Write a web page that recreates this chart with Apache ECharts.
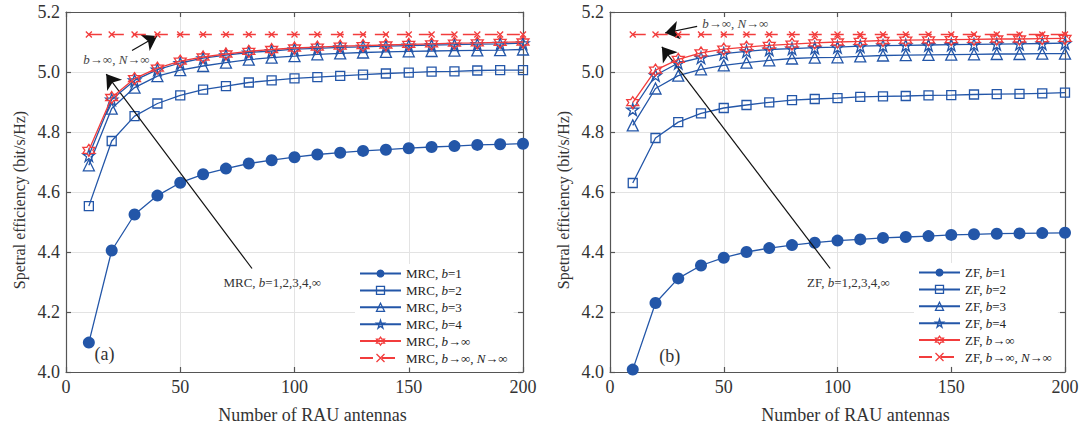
<!DOCTYPE html>
<html>
<head>
<meta charset="utf-8">
<script src="https://cdn.jsdelivr.net/npm/echarts@6/dist/echarts.min.js"></script>
<style>
html,body{margin:0;padding:0;background:#fff;}
#chart{width:1085px;height:433px;}
</style>
</head>
<body>
<div id="chart"></div>
<script>
// ---------- data ----------
const antennas = [10,20,30,40,50,60,70,80,90,100,110,120,130,140,150,160,170,180,190,200];
const xTicks = [0,50,100,150,200];
const yTicks = [4.0,4.2,4.4,4.6,4.8,5.0,5.2];

const mrcB1   = [4.098,4.405,4.525,4.588,4.631,4.659,4.678,4.695,4.706,4.716,4.725,4.731,4.737,4.741,4.746,4.750,4.753,4.757,4.759,4.761];
const mrcB2   = [4.553,4.770,4.853,4.895,4.922,4.941,4.953,4.965,4.972,4.979,4.983,4.987,4.991,4.995,4.998,5.001,5.002,5.005,5.006,5.006];
const mrcB3   = [4.689,4.878,4.948,4.986,5.006,5.020,5.031,5.041,5.048,5.053,5.059,5.062,5.065,5.067,5.069,5.070,5.071,5.072,5.073,5.075];
const mrcB4   = [4.722,4.908,4.972,5.008,5.030,5.046,5.056,5.065,5.070,5.076,5.079,5.082,5.084,5.086,5.088,5.090,5.091,5.093,5.094,5.096];
const mrcBInf = [4.739,4.915,4.978,5.013,5.036,5.050,5.060,5.069,5.075,5.080,5.083,5.086,5.088,5.090,5.092,5.094,5.096,5.097,5.099,5.100];
const mrcBInfNInf = [5.125,5.125,5.125,5.125,5.125,5.125,5.125,5.125,5.125,5.125,5.125,5.125,5.125,5.125,5.125,5.125,5.125,5.125,5.125,5.125];

const zfB1   = [4.008,4.230,4.312,4.355,4.381,4.400,4.413,4.423,4.431,4.438,4.442,4.447,4.450,4.453,4.457,4.459,4.461,4.462,4.463,4.464];
const zfB2   = [4.630,4.780,4.833,4.862,4.880,4.890,4.899,4.906,4.910,4.913,4.917,4.919,4.920,4.922,4.923,4.925,4.926,4.927,4.929,4.931];
const zfB3   = [4.822,4.945,4.988,5.009,5.022,5.031,5.039,5.045,5.048,5.049,5.052,5.055,5.056,5.057,5.058,5.059,5.060,5.060,5.061,5.061];
const zfB4   = [4.875,4.989,5.030,5.048,5.061,5.069,5.075,5.078,5.081,5.083,5.086,5.088,5.089,5.090,5.091,5.092,5.093,5.094,5.095,5.096];
const zfBInf = [4.898,5.006,5.042,5.064,5.076,5.083,5.089,5.093,5.097,5.100,5.102,5.105,5.106,5.107,5.108,5.109,5.110,5.110,5.111,5.112];
const zfBInfNInf = [5.125,5.125,5.125,5.125,5.125,5.125,5.125,5.125,5.125,5.125,5.125,5.125,5.125,5.125,5.125,5.125,5.125,5.125,5.125,5.125];

const mrcNames = ['MRC, b=1','MRC, b=2','MRC, b=3','MRC, b=4','MRC, b→∞','MRC, b→∞, N→∞'];
const zfNames  = ['ZF, b=1','ZF, b=2','ZF, b=3','ZF, b=4','ZF, b→∞','ZF, b→∞, N→∞'];

// annotations (data coordinates)
const annotA = {
  arrow1: [[28.9,5.072],[39.9,5.120]],
  arrow2: [[81.4,4.345],[17.6,4.993]],
  label1: {text:'{i|b}→∞, {i|N}→∞', at:[7.6,5.041]},
  label2: {text:'MRC, {i|b}=1,2,3,4,∞', at:[68.9,4.300]},
  panel: {text:'(a)', at:[16.8,4.061]}
};
const annotB = {
  arrow1: [[38.3,5.152],[24.2,5.130]],
  arrow2: [[96.8,4.345],[22.8,5.084]],
  label1: {text:'{i|b}→∞, {i|N}→∞', at:[40.5,5.161]},
  label2: {text:'ZF, {i|b}=1,2,3,4,∞', at:[86.6,4.300]},
  panel: {text:'(b)', at:[26.3,4.055]}
};

// ---------- styles ----------
const FONT = 'Liberation Serif';
const BLUE = '#2356a8';
const RED = '#f23c3c';
const AXIS = '#555555';
const CLEAR = 'rgba(255,255,255,0)';
const pentagram = 'path://M50,2 L61.2,36.2 L97.6,36.2 L68.2,57.4 L79.4,91.6 L50,70.4 L20.6,91.6 L31.8,57.4 L2.4,36.2 L38.8,36.2 Z';
const hexagram = 'path://M50,0 L64.4,25 L93.3,25 L78.9,50 L93.3,75 L64.4,75 L50,100 L35.6,75 L6.7,75 L21.1,50 L6.7,25 L35.6,25 Z';
const cross = 'path://M0,0 L10,10 M10,0 L0,10';

const styleDefs = [
  {color:BLUE, symbol:'circle', size:12, filled:true},
  {color:BLUE, symbol:'rect', size:9, filled:false},
  {color:BLUE, symbol:'triangle', size:11, filled:false},
  {color:BLUE, symbol:pentagram, size:12, filled:false},
  {color:RED, symbol:hexagram, size:12, filled:false},
  {color:RED, symbol:cross, size:6, filled:false, dashed:true}
];

function pairs(arr){ return antennas.map((x,i)=>[x, arr[i]]); }
function itemStyleOf(s){
  return {color: s.filled ? s.color : CLEAR, borderColor: s.color, borderWidth: s.filled ? 0 : 1.3};
}
function lineStyleOf(s){
  return {color:s.color, width:1.3, type: s.dashed ? [13,9] : 'solid'};
}

function makeSeries(names, arrays, gi, annot){
  return arrays.map((arr, k) => {
    const s = styleDefs[k];
    const ser = {
      name: names[k], type:'line', xAxisIndex: gi*2, yAxisIndex: gi*2,
      data: pairs(arr), symbol: s.symbol, symbolSize: s.size,
      showAllSymbol: true, animation:false, z: 2 + k,
      lineStyle: lineStyleOf(s),
      itemStyle: itemStyleOf(s),
      emphasis: {disabled:true}
    };
    if (k === 5) {
      ser.markLine = {
        silent:true, animation:false, symbol:['none','arrow'], symbolSize:14,
        label:{show:false},
        lineStyle:{color:'#111', width:1.2, type:'solid'},
        data:[
          [{coord:annot.arrow1[0]},{coord:annot.arrow1[1]}],
          [{coord:annot.arrow2[0]},{coord:annot.arrow2[1]}]
        ]
      };
    }
    return ser;
  });
}

function legendData(names){
  return names.map((n, k) => {
    const s = styleDefs[k];
    return {name:n, itemStyle:itemStyleOf(s)};
  });
}

function axisPair(gi){
  const base = {
    gridIndex: gi, type:'value',
    axisLine:{show:true, onZero:false, lineStyle:{color:AXIS, width:1.2}},
    axisTick:{show:true, inside:true, length:5, lineStyle:{color:AXIS, width:1.2}},
    splitLine:{show:false}
  };
  const x = Object.assign({}, base, {
    position:'bottom', min:0, max:200, interval:50,
    axisLabel:{fontFamily:FONT, fontSize:18, color:'#333', margin:6,
      formatter: v => xTicks.includes(v) ? String(v) : ''},
    splitLine:{show:true, lineStyle:{color:'#e3e3e3', width:1}},
    name:'Number of RAU antennas', nameLocation:'middle', nameGap:34,
    nameTextStyle:{fontFamily:FONT, fontSize:18, color:'#333', padding:[0,0,0,36]}
  });
  const xTop = Object.assign({}, base, {position:'top', min:0, max:200, interval:50, axisLabel:{show:false}});
  const y = Object.assign({}, base, {
    position:'left', min:4.0, max:5.2, interval:0.2,
    axisLabel:{fontFamily:FONT, fontSize:18, color:'#333', margin:6,
      formatter: v => { const t = yTicks.find(q => Math.abs(q - v) < 1e-6); return t === undefined ? '' : t.toFixed(1); }},
    splitLine:{show:true, lineStyle:{color:'#e3e3e3', width:1}},
    name:'Spetral efficiency (bit/s/Hz)', nameLocation:'middle', nameGap:39, nameRotate:90,
    nameTextStyle:{fontFamily:FONT, fontSize:16, color:'#333', padding:[0,16,0,0]}
  });
  const yRight = Object.assign({}, base, {position:'right', min:4.0, max:5.2, interval:0.2, axisLabel:{show:false}});
  return {x:[x, xTop], y:[y, yRight]};
}

const a0 = axisPair(0), a1 = axisPair(1);

const legendText = {
  fontFamily:FONT, fontSize:13, color:'#222',
  rich:{ i:{fontFamily:FONT, fontSize:13, fontStyle:'italic', color:'#222'} }
};
const legendFmt = n => n.replace(/([bN])(?=[=→])/g, '{i|$1}');

const chart = echarts.init(document.getElementById('chart'), null, {renderer:'svg'});
const option = {
  animation:false,
  backgroundColor:'#ffffff',
  grid:[
    {left:66, right:562, top:12, bottom:61, containLabel:false},
    {left:610, right:20, top:12, bottom:61, containLabel:false}
  ],
  xAxis:[a0.x[0], a0.x[1], a1.x[0], a1.x[1]],
  yAxis:[a0.y[0], a0.y[1], a1.y[0], a1.y[1]],
  legend:[
    {data:legendData(mrcNames), orient:'vertical', left:355, top:264, itemWidth:41, itemHeight:10, itemGap:3.9,
     padding:[3,6,3,4], backgroundColor:'#ffffff', textStyle:legendText, formatter:legendFmt, selectedMode:false},
    {data:legendData(zfNames), orient:'vertical', left:914, top:263, itemWidth:41, itemHeight:10, itemGap:3.9,
     padding:[3,6,3,4], backgroundColor:'#ffffff', textStyle:legendText, formatter:legendFmt, selectedMode:false}
  ],
  series:[].concat(
    makeSeries(mrcNames, [mrcB1,mrcB2,mrcB3,mrcB4,mrcBInf,mrcBInfNInf], 0, annotA),
    makeSeries(zfNames, [zfB1,zfB2,zfB3,zfB4,zfBInf,zfBInfNInf], 1, annotB)
  )
};
chart.setOption(option);

function textEls(gi, annot){
  const finder = {xAxisIndex: gi*2, yAxisIndex: gi*2};
  const p1 = chart.convertToPixel(finder, annot.label1.at);
  const p2 = chart.convertToPixel(finder, annot.label2.at);
  const p3 = chart.convertToPixel(finder, annot.panel.at);
  const rich1 = {i:{fontFamily:FONT, fontSize:13, fontStyle:'italic', fill:'#444'}};
  const rich2 = {i:{fontFamily:FONT, fontSize:13, fontStyle:'italic', fill:'#333'}};
  return [
    {type:'text', x:p1[0], y:p1[1], z:50, style:{text:annot.label1.text, font:'13px '+FONT, fill:'#444', align:'left', verticalAlign:'middle', rich:rich1, backgroundColor:'#fff'}},
    {type:'text', x:p2[0], y:p2[1], z:50, style:{text:annot.label2.text, font:'13px '+FONT, fill:'#333', align:'left', verticalAlign:'middle', rich:rich2}},
    {type:'text', x:p3[0], y:p3[1], z:50, style:{text:annot.panel.text, font:'18px '+FONT, fill:'#333', align:'center', verticalAlign:'middle'}}
  ];
}
chart.setOption({graphic: textEls(0, annotA).concat(textEls(1, annotB))});
</script>
</body>
</html>
